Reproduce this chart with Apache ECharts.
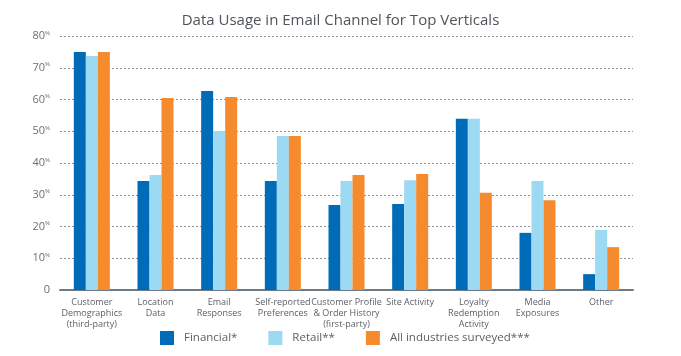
<!DOCTYPE html>
<html><head><meta charset="utf-8">
<script src="https://cdn.jsdelivr.net/npm/echarts@6/dist/echarts.min.js"></script>
<style>html,body{margin:0;padding:0;background:#fff}#c{width:681px;height:356px}</style>
</head><body><div id="c"></div>
<script>
const categories = ["Customer\nDemographics\n(third-party)", "Location\nData", "Email\nResponses", "Self-reported\nPreferences", "Customer Profile\n& Order History\n(first-party)", "Site Activity", "Loyalty\nRedemption\nActivity", "Media\nExposures", "Other"];
const financial = [75, 34.3, 62.7, 34.3, 26.8, 27.1, 53.9, 18.0, 5.0];
const retail = [73.7, 36.2, 50.1, 48.5, 34.3, 34.6, 53.9, 34.3, 18.9];
const allIndustries = [75, 60.5, 60.8, 48.5, 36.2, 36.5, 30.6, 28.3, 13.5];
const seriesNames = ["Financial*", "Retail**", "All industries surveyed***"];
const yTicks = [0, 10, 20, 30, 40, 50, 60, 70, 80];

const colors = ["#006cb7", "#9cd9f3", "#f68b2d"];
const font = "'Open Sans', sans-serif";
const chart = echarts.init(document.getElementById('c'), null, {renderer: 'canvas'});
const mk = (name, data, i) => ({
  name, type: 'bar', data, barWidth: 12, barGap: '0%',
  itemStyle: {color: colors[i]}
});
chart.setOption({
  animation: false,
  title: {text: 'Data Usage in Email Channel for Top Verticals', left: 'center', top: 8,
    textStyle: {fontFamily: font, fontSize: 15, fontWeight: 'normal', color: '#4f545a'}},
  grid: {left: 60, right: 48, top: 36, bottom: 66},
  legend: {bottom: 6, left: 155, itemWidth: 14, itemHeight: 14, itemGap: 31, icon: 'rect',
    textStyle: {fontFamily: font, fontSize: 11.5, color: '#5a5f66', padding: [0, 0, 0, 5]},
    data: seriesNames},
  xAxis: {type: 'category', data: categories,
    axisLine: {lineStyle: {color: '#6d7a85', width: 2}},
    axisTick: {show: false},
    axisLabel: {fontFamily: font, fontSize: 9, color: '#5a5f66', lineHeight: 11, interval: 0, margin: 7}},
  yAxis: {type: 'value', min: yTicks[0], max: yTicks[yTicks.length - 1], interval: 10,
    axisLine: {show: false}, axisTick: {show: false},
    splitLine: {lineStyle: {color: '#8a949c', type: [2, 2], width: 1}},
    axisLabel: {margin: 10, color: '#6a6f76',
      formatter: v => v === 0 ? '{n|0}' : '{n|' + v + '}{p|%}',
      rich: {n: {fontFamily: font, fontSize: 11, color: '#6a6f76'},
             p: {fontFamily: font, fontSize: 6, color: '#6a6f76', padding: [0, 0, 6, 0]}}}},
  series: [mk(seriesNames[0], financial, 0), mk(seriesNames[1], retail, 1), mk(seriesNames[2], allIndustries, 2)]
});
</script></body></html>
